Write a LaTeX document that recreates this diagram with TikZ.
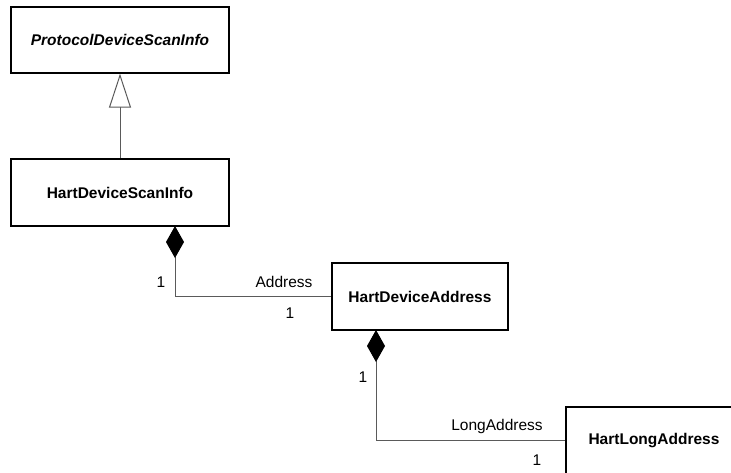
\documentclass[tikz,border=0pt]{standalone}
\usepackage{fontspec}
\setmainfont{Liberation Sans}
\usetikzlibrary{arrows.meta}
\definecolor{linkgray}{RGB}{90,90,90}
\tikzset{
  classbox/.style={draw=black, line width=1.3pt, fill=white, inner sep=0pt,
    font=\fontsize{15.5}{18}\selectfont\bfseries},
  lbl/.style={inner sep=0pt, font=\fontsize{15.5}{18}\selectfont},
  link/.style={draw=linkgray, line width=1pt},
  inherit/.style={link, -{Triangle[open, length=34pt, width=22pt, line width=1pt, fill=white]}},
  compose/.style={link, {Diamond[length=32pt, width=18pt, fill=black, color=black]}-},
}
\begin{document}
\begin{tikzpicture}[x=1pt, y=-1pt]
  \clip (0,0) rectangle (731,472);
  \fill[white] (0,0) rectangle (731,472);

  % classes
  \node[classbox, minimum width=218pt, minimum height=66pt] (proto) at (120,40)
    {\itshape ProtocolDeviceScanInfo};
  \node[classbox, minimum width=218pt, minimum height=67pt] (scan) at (120,192.5)
    {HartDeviceScanInfo};
  \node[classbox, minimum width=176pt, minimum height=67pt] (addr) at (420,296.5)
    {HartDeviceAddress};
  \node[classbox, minimum width=176pt, minimum height=67pt] (long) at (654,440.5)
    {HartLongAddress};

  % generalisation
  \draw[inherit] (scan.north) -- (proto.south);

  % compositions
  \coordinate (scanpart) at (175,226);
  \coordinate (addrpart) at (376,330);
  \draw[compose] (scanpart) |- (addr.west);
  \draw[compose] (addrpart) |- (long.west);

  % role names and multiplicities
  \node[lbl] (m1) at (161,282) {1};
  \node[lbl] (r1) at (284,282) {Address};
  \node[lbl] (m2) at (290,313) {1};
  \node[lbl] (m3) at (363,377) {1};
  \node[lbl] (r2) at (497,426) {LongAddress};
  \node[lbl] (m4) at (537,460) {1};
\end{tikzpicture}
\end{document}
